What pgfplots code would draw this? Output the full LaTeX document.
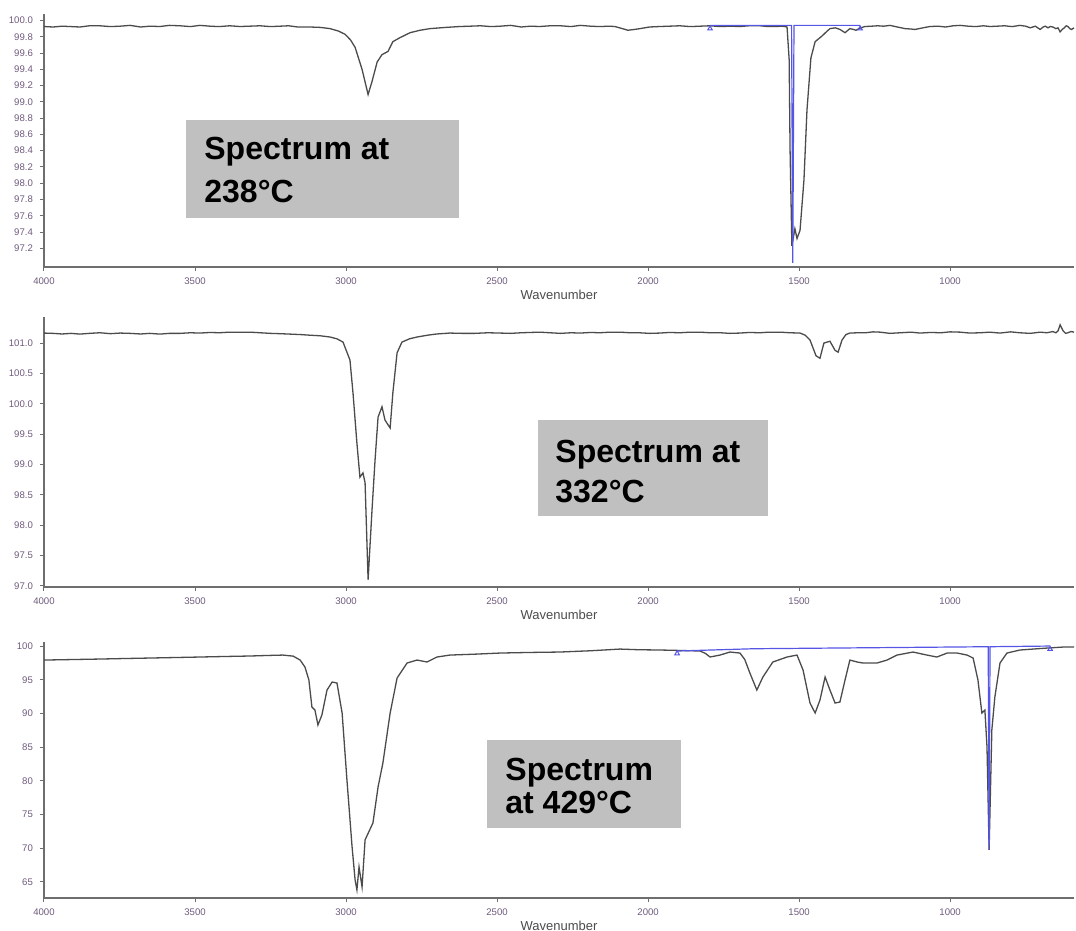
\documentclass[border=0pt]{standalone}
\usepackage{pgfplots}
\pgfplotsset{compat=1.18}
\usepackage{fontspec}
\setmainfont{Liberation Sans}
\definecolor{specline}{RGB}{75,75,75}
\definecolor{axgray}{RGB}{110,110,110}
\definecolor{ticklab}{RGB}{110,90,125}
\definecolor{blueline}{RGB}{85,85,230}
\definecolor{boxgray}{RGB}{192,192,192}
\pgfplotsset{
  irpanel/.style={
    scale only axis, width=515pt, anchor=south west,
    x dir=reverse, xmin=590, xmax=4000,
    xtick={1000,1500,2000,2500,3000,3500,4000},
    axis lines=left, axis line style={-, axgray, line width=0.9pt},
    tick align=outside, major tick length=2pt,
    tick style={axgray, line width=0.5pt},
    ticklabel style={font=\fontsize{4.8}{6}\selectfont, text=ticklab},
    /pgf/number format/assume math mode=true,
    xticklabel style={/pgf/number format/set thousands separator={}},
    xlabel={Wavenumber},
    xlabel style={font=\fontsize{6.5}{7}\selectfont, text=specline, at={(axis description cs:0.5,0)}, anchor=center, yshift=-14pt},
    clip=false,
  },
  spec/.style={specline, line width=0.65pt},
  bl/.style={blueline, line width=0.6pt},
  tri/.style={only marks, blueline, mark=triangle, mark size=1.3pt, mark options={line width=0.5pt}},
}
\begin{document}
\begin{tikzpicture}
\useasboundingbox (0,0) rectangle (538pt,465.5pt);
% ---------------- Panel 1 ----------------
\begin{axis}[irpanel, at={(22pt,332pt)}, height=126.5pt,
  ymin=96.97, ymax=100.08,
  ytick={97.2,97.4,97.6,97.8,98.0,98.2,98.4,98.6,98.8,99.0,99.2,99.4,99.6,99.8,100.0},
  yticklabel style={/pgf/number format/.cd, fixed, fixed zerofill, precision=1}]
\addplot[spec] coordinates {
(4000,99.926)(3970,99.92)(3940,99.93)(3910,99.925)(3881,99.92)(3850,99.935)(3815,99.935)(3780,99.925)(3748,99.93)(3715,99.94)(3680,99.92)(3650,99.93)(3616,99.926)(3585,99.94)(3550,99.935)(3515,99.925)(3484,99.94)(3450,99.93)(3420,99.925)(3385,99.935)(3351,99.926)(3320,99.93)(3285,99.935)(3250,99.925)(3219,99.93)(3190,99.935)(3160,99.92)(3119,99.92)(3085,99.915)(3053,99.90)(3025,99.87)(3003,99.83)(2985,99.76)(2970,99.67)(2947,99.40)(2927,99.09)(2914,99.25)(2897,99.49)(2881,99.58)(2861,99.62)(2845,99.74)(2821,99.79)(2788,99.85)(2755,99.88)(2722,99.90)(2670,99.915)(2623,99.926)(2590,99.93)(2555,99.935)(2520,99.925)(2490,99.93)(2455,99.94)(2420,99.92)(2390,99.93)(2358,99.926)(2325,99.935)(2290,99.935)(2255,99.925)(2225,99.94)(2190,99.93)(2160,99.925)(2130,99.93)(2110,99.926)(2085,99.90)(2067,99.88)(2045,99.89)(2027,99.90)(1995,99.92)(1961,99.926)(1930,99.93)(1895,99.935)(1860,99.925)(1828,99.93)(1795,99.935)(1760,99.925)(1730,99.93)(1696,99.926)(1665,99.935)(1630,99.935)(1600,99.925)(1580,99.926)(1555,99.93)(1540,99.92)(1533,99.52)(1530,98.41)(1524,97.23)(1514,97.44)(1507,97.32)(1497,97.42)(1484,98.04)(1474,98.90)(1461,99.54)(1447,99.74)(1424,99.81)(1410,99.86)(1398,99.90)(1380,99.91)(1365,99.89)(1348,99.85)(1332,99.90)(1320,99.89)(1312,99.88)(1296,99.91)(1282,99.926)(1260,99.93)(1240,99.935)(1220,99.93)(1199,99.94)(1175,99.92)(1149,99.90)(1130,99.895)(1116,99.89)(1090,99.91)(1067,99.926)(1040,99.93)(1015,99.92)(990,99.935)(967,99.94)(940,99.93)(915,99.925)(890,99.935)(868,99.926)(845,99.93)(820,99.935)(795,99.925)(769,99.94)(750,99.93)(735,99.91)(718,99.93)(702,99.89)(692,99.92)(685,99.93)(676,99.91)(669,99.926)(660,99.92)(650,99.90)(643,99.91)(636,99.86)(629,99.89)(622,99.91)(616,99.935)(610,99.926)(604,99.90)(598,99.89)(590,99.91)
};
\addplot[bl] coordinates {(1795,99.94)(1525,99.94)(1521,97.02)(1517,99.94)(1298,99.94)};
\addplot[tri] coordinates {(1795,99.90)(1298,99.90)};
\end{axis}
% ---------------- Panel 2 ----------------
\begin{axis}[irpanel, at={(22pt,172pt)}, height=135pt,
  ymin=96.98, ymax=101.43,
  ytick={97.0,97.5,98.0,98.5,99.0,99.5,100.0,100.5,101.0},
  yticklabel style={/pgf/number format/.cd, fixed, fixed zerofill, precision=1}]
\addplot[spec] coordinates {
(4000,101.165)(3970,101.16)(3940,101.15)(3910,101.16)(3881,101.148)(3850,101.16)(3815,101.17)(3780,101.155)(3748,101.165)(3715,101.16)(3680,101.15)(3650,101.16)(3616,101.148)(3585,101.16)(3550,101.16)(3515,101.17)(3484,101.165)(3450,101.175)(3420,101.17)(3385,101.18)(3351,101.18)(3318,101.18)(3285,101.17)(3250,101.16)(3220,101.155)(3186,101.148)(3150,101.14)(3120,101.13)(3085,101.12)(3053,101.10)(3030,101.07)(3010,101.016)(2987,100.72)(2977,100.18)(2964,99.35)(2954,98.79)(2944,98.86)(2937,98.70)(2927,97.10)(2914,98.25)(2904,99.07)(2894,99.78)(2881,99.95)(2871,99.73)(2854,99.60)(2845,100.18)(2831,100.84)(2815,101.016)(2790,101.07)(2765,101.10)(2730,101.13)(2700,101.15)(2656,101.165)(2615,101.16)(2575,101.16)(2530,101.17)(2490,101.165)(2455,101.16)(2420,101.17)(2390,101.175)(2358,101.18)(2325,101.17)(2290,101.16)(2255,101.17)(2225,101.165)(2190,101.175)(2160,101.17)(2125,101.18)(2093,101.18)(2060,101.17)(2030,101.17)(1995,101.16)(1961,101.165)(1930,101.175)(1895,101.17)(1860,101.18)(1828,101.18)(1795,101.17)(1760,101.17)(1730,101.16)(1696,101.165)(1665,101.175)(1630,101.17)(1600,101.18)(1563,101.18)(1530,101.17)(1497,101.165)(1480,101.13)(1464,101.05)(1444,100.79)(1431,100.75)(1418,101.0)(1398,101.03)(1381,100.88)(1371,100.85)(1358,101.05)(1345,101.14)(1332,101.165)(1305,101.17)(1280,101.17)(1255,101.185)(1232,101.18)(1200,101.16)(1165,101.17)(1130,101.18)(1100,101.165)(1065,101.175)(1030,101.17)(1000,101.185)(967,101.18)(935,101.165)(900,101.17)(870,101.18)(835,101.165)(800,101.185)(770,101.17)(735,101.16)(702,101.18)(680,101.17)(660,101.19)(650,101.17)(643,101.20)(636,101.30)(626,101.20)(618,101.16)(610,101.17)(600,101.19)(590,101.18)
};
\end{axis}
% ---------------- Panel 3 ----------------
\begin{axis}[irpanel, at={(22pt,16.5pt)}, height=128pt,
  ymin=62.6, ymax=100.6,
  ytick={65,70,75,80,85,90,95,100}]
\addplot[spec] coordinates {
(4000,97.92)(3900,98.0)(3815,98.07)(3730,98.15)(3649,98.22)(3560,98.3)(3484,98.37)(3400,98.45)(3318,98.52)(3260,98.6)(3209,98.66)(3175,98.5)(3152,97.92)(3136,96.88)(3123,94.96)(3113,90.95)(3103,90.50)(3093,88.28)(3080,89.76)(3063,93.47)(3046,94.66)(3030,94.51)(3013,90.06)(2997,80.12)(2980,70.18)(2970,65.28)(2964,63.80)(2957,67.21)(2947,64.24)(2937,71.22)(2911,73.74)(2894,79.08)(2878,82.64)(2854,90.06)(2831,95.25)(2798,97.48)(2765,97.92)(2732,97.63)(2699,98.37)(2656,98.66)(2570,98.8)(2490,98.96)(2390,99.05)(2292,99.11)(2190,99.3)(2093,99.55)(2030,99.45)(1961,99.41)(1900,99.35)(1828,99.26)(1810,98.9)(1795,98.37)(1762,98.66)(1729,99.11)(1696,98.96)(1680,98.0)(1663,95.99)(1640,93.47)(1620,95.40)(1587,97.63)(1540,98.37)(1507,98.66)(1487,96.44)(1464,91.54)(1447,90.06)(1431,91.99)(1414,95.40)(1398,93.47)(1381,91.54)(1365,91.69)(1348,94.96)(1332,97.92)(1308,97.63)(1289,97.48)(1242,97.48)(1209,97.92)(1176,98.66)(1123,99.11)(1077,98.66)(1044,98.37)(1010,98.96)(977,98.96)(944,98.66)(924,98.22)(908,94.96)(895,90.06)(885,90.50)(878,85.01)(871,69.73)(862,87.54)(852,92.43)(835,97.48)(812,98.96)(769,99.41)(679,99.70)(626,99.85)(590,99.85)
};
\addplot[bl] coordinates {(1904,99.26)(1650,99.6)(874,99.9)(871,69.73)(868,99.9)(669,100.0)};
\addplot[tri] coordinates {(1904,98.9)(669,99.55)};
\end{axis}
% ---------------- Text boxes ----------------
\fill[boxgray] (93pt,356.5pt) rectangle (229.5pt,405.5pt);
\node[anchor=base west, inner sep=0pt, font=\bfseries\fontsize{16}{19}\selectfont] at (102pt,385.5pt) {Spectrum at};
\node[anchor=base west, inner sep=0pt, font=\bfseries\fontsize{16}{19}\selectfont] at (102pt,364pt) {238°C};
\fill[boxgray] (269pt,207.5pt) rectangle (384pt,255.5pt);
\node[anchor=base west, inner sep=0pt, font=\bfseries\fontsize{16}{19}\selectfont] at (277.5pt,234pt) {Spectrum at};
\node[anchor=base west, inner sep=0pt, font=\bfseries\fontsize{16}{19}\selectfont] at (277.5pt,214pt) {332°C};
\fill[boxgray] (243.5pt,51.5pt) rectangle (340.5pt,95.5pt);
\node[anchor=base west, inner sep=0pt, font=\bfseries\fontsize{16}{19}\selectfont] at (252.5pt,75pt) {Spectrum};
\node[anchor=base west, inner sep=0pt, font=\bfseries\fontsize{16}{19}\selectfont] at (252.5pt,58.5pt) {at 429°C};
\end{tikzpicture}
\end{document}
